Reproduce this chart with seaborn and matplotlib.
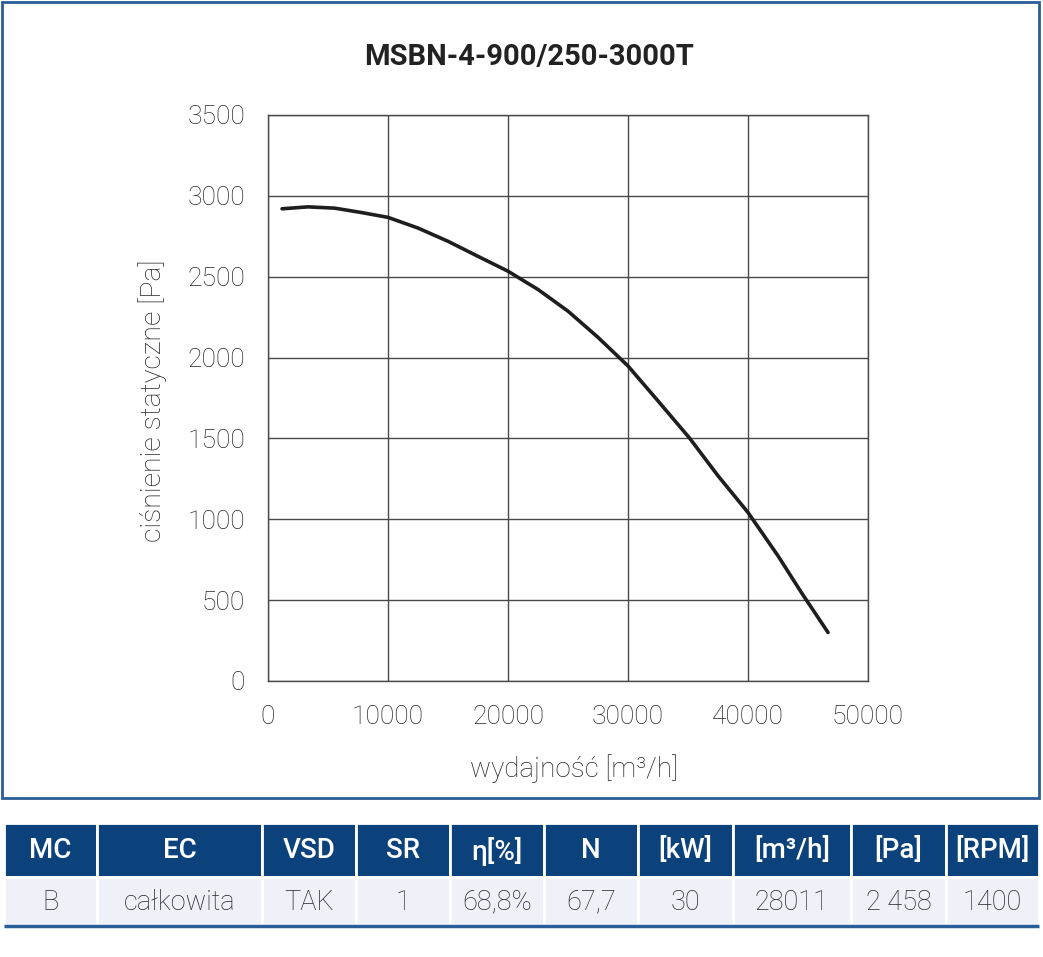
import matplotlib
matplotlib.use("Agg")
import matplotlib.pyplot as plt
from matplotlib.patches import Rectangle
import seaborn as sns
import pandas as pd

# ---- data ----
flow = [1170, 3330, 5560, 7780, 10000, 12500, 15000, 17500, 20000, 22500,
        25000, 27500, 30000, 32500, 35140, 37500, 40000, 42500, 44440, 46670]
pressure = [2920, 2932, 2924, 2897, 2867, 2801, 2719, 2626, 2534, 2421,
            2287, 2125, 1948, 1732, 1501, 1269, 1042, 774, 548, 300]
x_ticks = [0, 10000, 20000, 30000, 40000, 50000]
y_ticks = [0, 500, 1000, 1500, 2000, 2500, 3000, 3500]
title = "MSBN-4-900/250-3000T"
x_label = "wydajność [m³/h]"
y_label = "ciśnienie statyczne [Pa]"
table_header = ["MC", "EC", "VSD", "SR", "η[%]", "N", "[kW]", "[m³/h]", "[Pa]", "[RPM]"]
table_row = ["B", "całkowita", "TAK", "1", "68,8%", "67,7", "30", "28011", "2 458", "1400"]

sns.set_theme(style="white")
plt.rcParams['font.family'] = ['Roboto', 'DejaVu Sans']

W, H = 1043, 957
fig = plt.figure(figsize=(W / 100, H / 100), dpi=100)
fig.patch.set_facecolor("white")

def px(x0, y0, x1, y1):
    return [x0 / W, 1 - y1 / H, (x1 - x0) / W, (y1 - y0) / H]

# outer frame
frame = Rectangle((2 / W, 1 - 798 / H), 1037 / W, 796 / H, transform=fig.transFigure,
                  fill=False, edgecolor="#2a5e98", linewidth=2)
fig.add_artist(frame)

fig.text(529 / W, 1 - 57 / H, title, ha="center", va="center", fontsize=21,
         fontweight="bold", color="#222222")

ax = fig.add_axes(px(268, 115, 868, 681))
df = pd.DataFrame({"flow": flow, "pressure": pressure})
sns.lineplot(data=df, x="flow", y="pressure", ax=ax, color="#1e1e1e", linewidth=2.6)
ax.set_xlim(0, 50000)
ax.set_ylim(0, 3500)
ax.set_xticks(x_ticks)
ax.set_yticks(y_ticks)
ax.set_xticklabels([str(v) for v in x_ticks])
ax.set_yticklabels([str(v) for v in y_ticks])
ax.grid(True, color="#4a4a4a", linewidth=1.0)
for s in ax.spines.values():
    s.set_visible(True)
    s.set_color("#4a4a4a")
    s.set_linewidth(1.0)
ax.tick_params(axis="both", length=0, labelsize=19, labelcolor="#262626")
ax.tick_params(axis="x", pad=17)
ax.tick_params(axis="y", pad=16.5)
for t in ax.get_xticklabels() + ax.get_yticklabels():
    t.set_fontweight("light")
ax.set_xlabel(x_label, fontsize=20, color="#262626", fontweight="light")
ax.set_ylabel(y_label, fontsize=20.5, color="#262626", fontweight="light")
ax.xaxis.label.set_va("center")
ax.yaxis.label.set_va("center")
ax.xaxis.set_label_coords(0.51, -0.155)
ax.yaxis.set_label_coords(-0.193, 0.495)

# ---- table ----
edges = [4, 97, 262, 356, 450, 544, 638, 733, 851, 946, 1039]
tax = fig.add_axes(px(0, 815, W, 935))
tax.set_xlim(0, W)
tax.set_ylim(935, 815)
tax.axis("off")
hdr_top, hdr_bot, row_bot = 823, 877, 925
for i in range(len(table_header)):
    x0, x1 = edges[i], edges[i + 1]
    tax.add_patch(Rectangle((x0, hdr_top), x1 - x0, hdr_bot - hdr_top,
                            facecolor="#0b427b", edgecolor="white", linewidth=2))
    tax.add_patch(Rectangle((x0, hdr_bot), x1 - x0, row_bot - hdr_bot,
                            facecolor="#eef1f7", edgecolor="white", linewidth=2))
    cx = (x0 + x1) / 2
    tax.text(cx, (hdr_top + hdr_bot) / 2 + 1, table_header[i], ha="center", va="center",
             fontsize=20, color="white", fontweight="medium")
    tax.text(cx, (hdr_bot + row_bot) / 2 + 1, table_row[i], ha="center", va="center",
             fontsize=19.5, color="#262626", fontweight="light")
tax.plot([edges[0], edges[-1]], [925.5, 925.5], color="#2a5e98", linewidth=2.5,
         solid_capstyle="butt")

fig.savefig("out.png", dpi=100)
